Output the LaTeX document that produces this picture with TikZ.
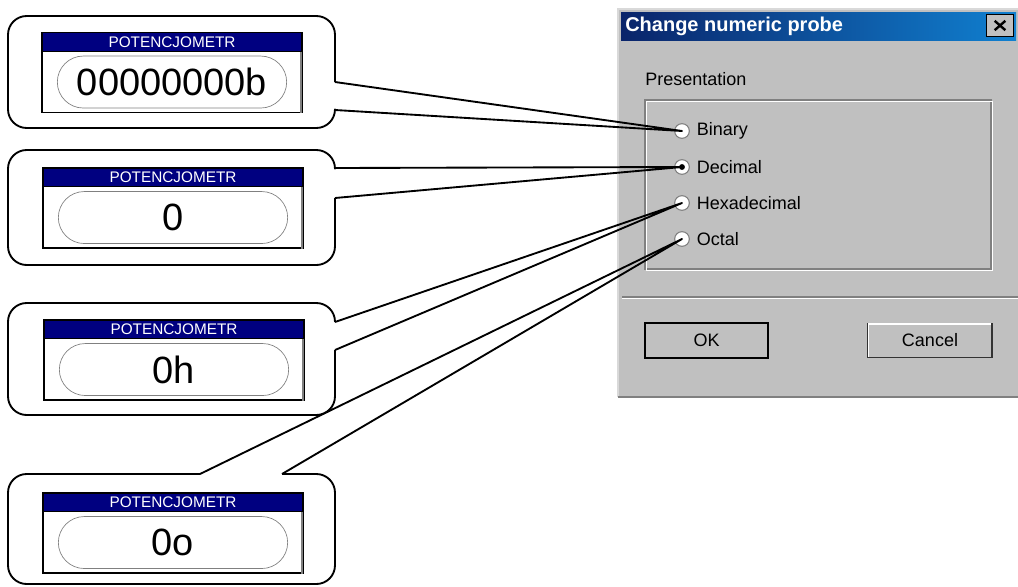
\documentclass[tikz,border=0pt]{standalone}
\usepackage{fontspec}
\setmainfont{Liberation Sans}
\usetikzlibrary{positioning,shapes.misc}
\definecolor{winnavy}{RGB}{10,36,106}
\definecolor{winblue}{RGB}{16,128,208}
\definecolor{wingray}{RGB}{192,192,192}
\definecolor{windark}{RGB}{128,128,128}
\definecolor{hdrblue}{RGB}{0,0,128}
\tikzset{
  callout/.style={draw=black, line width=1.4pt, line join=round},
  potframe/.style={draw=black, fill=white, line width=0.8pt, minimum width=195pt, minimum height=60pt, inner sep=0pt},
  pothdr/.style={draw=black, fill=hdrblue, text=white, line width=0.8pt, minimum width=195pt, minimum height=14pt, inner sep=0pt, font=\fontsize{11.5}{12}\selectfont},
  potval/.style={rounded rectangle, draw=windark, line width=0.5pt, minimum width=172pt, minimum height=39pt, inner sep=0pt, font=\fontsize{28.5}{30}\selectfont},
  radio/.style={circle, draw=windark, fill=white, line width=0.8pt, minimum size=11pt, inner sep=0pt},
  dlgtext/.style={inner sep=0pt, font=\fontsize{13.5}{15}\selectfont},
  winbtn/.style={draw=black, fill=wingray, line width=0.8pt, inner sep=0pt, font=\fontsize{13.5}{15}\selectfont}
}
\begin{document}
\begin{tikzpicture}[x=0.75pt, y=-0.75pt]
\useasboundingbox (0,0) rectangle (1018,586);

% dialog window
\fill[wingray] (618,9) rectangle (1018,397);
\draw[line width=0.8pt, white!85!black] (618,397) -- (618,9) -- (1018,9);
\draw[line width=1pt, windark] (618,397) -- (1018,397);
\shade[left color=winnavy, right color=winblue] (621,12) rectangle (1016,40);
\node[anchor=west, text=white, inner sep=0pt, font=\bfseries\fontsize{15}{18}\selectfont] (title) at (625,26) {Change numeric probe};
\node[winbtn, minimum width=20pt, minimum height=17pt] (close) at (1000,25.5) {};
\draw[line width=1.8pt] ([shift={(-4pt,-3.5pt)}]close.center) -- ([shift={(4pt,3.5pt)}]close.center);
\draw[line width=1.8pt] ([shift={(-4pt,3.5pt)}]close.center) -- ([shift={(4pt,-3.5pt)}]close.center);

\node[dlgtext, anchor=west] (pres) at (645,79) {Presentation};
\draw[windark, line width=0.8pt] (645,100) rectangle (991,269);
\draw[white, line width=0.8pt] (646.5,101.5) rectangle (992.5,270.5);

\node[radio] (rbin) at (682,131) {};
\node[radio] (rdec) at (682,167) {};
\node[radio] (rhex) at (682,203) {};
\node[radio] (roct) at (682,239) {};
\fill (rdec.center) circle (2.2pt);
\node[dlgtext, right=5pt of rbin] (lbin) {Binary};
\node[dlgtext, right=5pt of rdec] (ldec) {Decimal};
\node[dlgtext, right=5pt of rhex] (lhex) {Hexadecimal};
\node[dlgtext, right=5pt of roct] (loct) {Octal};

\draw[windark, line width=0.8pt] (622,297) -- (1018,297);
\draw[white, line width=0.8pt] (622,298.5) -- (1018,298.5);

\node[winbtn, line width=1.5pt, minimum width=92pt, minimum height=26pt] (ok) at (706.5,340.5) {OK};
\node[winbtn, draw=black!80, minimum width=93pt, minimum height=26pt] (cancel) at (930,340.5) {Cancel};
\draw[white, line width=1pt] ([shift={(1pt,1pt)}]cancel.south west) |- ([shift={(-1pt,-1pt)}]cancel.north east);

% displays
\node[potframe] (pot1) at (172,72.5) {};
\node[pothdr, anchor=north] (hdr1) at (pot1.north) {POTENCJOMETR};
\node[potval, below=3pt of hdr1] (val1) {00000000b};
\node[potframe] (pot2) at (173,208) {};
\node[pothdr, anchor=north] (hdr2) at (pot2.north) {POTENCJOMETR};
\node[potval, below=3pt of hdr2] (val2) {0};
\node[potframe] (pot3) at (174,360) {};
\node[pothdr, anchor=north] (hdr3) at (pot3.north) {POTENCJOMETR};
\node[potval, below=3pt of hdr3] (val3) {0h};
\node[potframe] (pot4) at (173,533) {};
\node[pothdr, anchor=north] (hdr4) at (pot4.north) {POTENCJOMETR};
\node[potval, below=3pt of hdr4] (val4) {0o};
\foreach \p in {1,...,4}
  \draw[windark, line width=1.8pt] ([xshift=-1.3pt]hdr\p.south east) -- ([xshift=-1.3pt]pot\p.south east);

% callouts
\coordinate (t1a) at (335,82);
\coordinate (t1b) at (335,110);
\draw[callout, rounded corners=14pt] (t1b) -- (335,128) -- (8,128) -- (8,16) -- (335,16) -- (t1a);
\draw[callout] (t1a) -- (rbin.center) -- (t1b);

\coordinate (t2a) at (335,168);
\coordinate (t2b) at (335,198);
\draw[callout, rounded corners=14pt] (t2b) -- (335,265) -- (8,265) -- (8,150) -- (335,150) -- (t2a);
\draw[callout] (t2a) -- (rdec.center) -- (t2b);

\coordinate (t3a) at (335,322);
\coordinate (t3b) at (335,350);
\draw[callout, rounded corners=14pt] (t3b) -- (335,415) -- (8,415) -- (8,303) -- (335,303) -- (t3a);
\draw[callout] (t3a) -- (rhex.center) -- (t3b);

\coordinate (t4a) at (200,474);
\coordinate (t4b) at (282,474);
\draw[callout, rounded corners=14pt] (t4a) -- (8,474) -- (8,584) -- (335,584) -- (335,474) -- (t4b);
\draw[callout] (t4a) -- (roct.center) -- (t4b);
\end{tikzpicture}
\end{document}
